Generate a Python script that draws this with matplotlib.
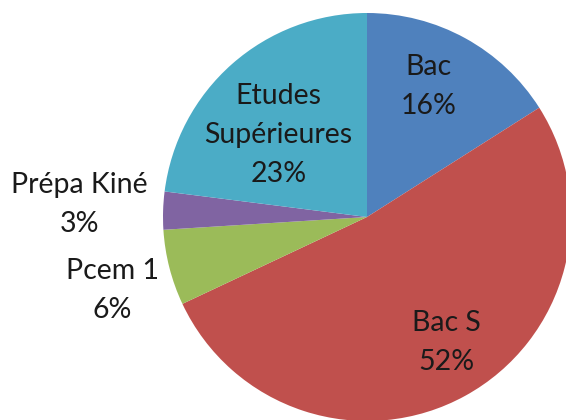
import numpy as np
import matplotlib
matplotlib.use("Agg")
import matplotlib.pyplot as plt

labels = ["Bac", "Bac S", "Pcem 1", "Prépa Kiné", "Etudes\nSupérieures"]
values = [16, 52, 6, 3, 23]
colors = ["#4F81BD", "#C0504D", "#9BBB59", "#8064A2", "#4BACC6"]

# label placement: distance (fraction of radius) and angle tweak (deg)
label_dist = [0.71, 0.73, 1.30, 1.41, 0.59]
label_dang = [3.5, 3.6, 1.6, -0.6, 5.9]

W, H = 566, 420
fig = plt.figure(figsize=(W / 100, H / 100), dpi=100)
ax = fig.add_axes([0, 0, 1, 1])

cx, cy, R = 367, 203, 204
wedges, _ = ax.pie(
    values,
    colors=colors,
    startangle=90,
    counterclock=False,
    center=(cx, cy),
    radius=R,
    wedgeprops=dict(linewidth=0),
)

for w, lab, v, d, da in zip(wedges, labels, values, label_dist, label_dang):
    ang = np.deg2rad((w.theta1 + w.theta2) / 2 + da)
    x = cx + d * R * np.cos(ang)
    y = cy + d * R * np.sin(ang)
    ax.text(x, y, f"{lab}\n{v}%", ha="center", va="center", fontsize=20.5,
            family="Lato", color="#1a1a1a", linespacing=1.62)

ax.set_xlim(0, W)
ax.set_ylim(0, H)
ax.set_aspect("equal")
ax.axis("off")
fig.savefig("out.png", dpi=100)
